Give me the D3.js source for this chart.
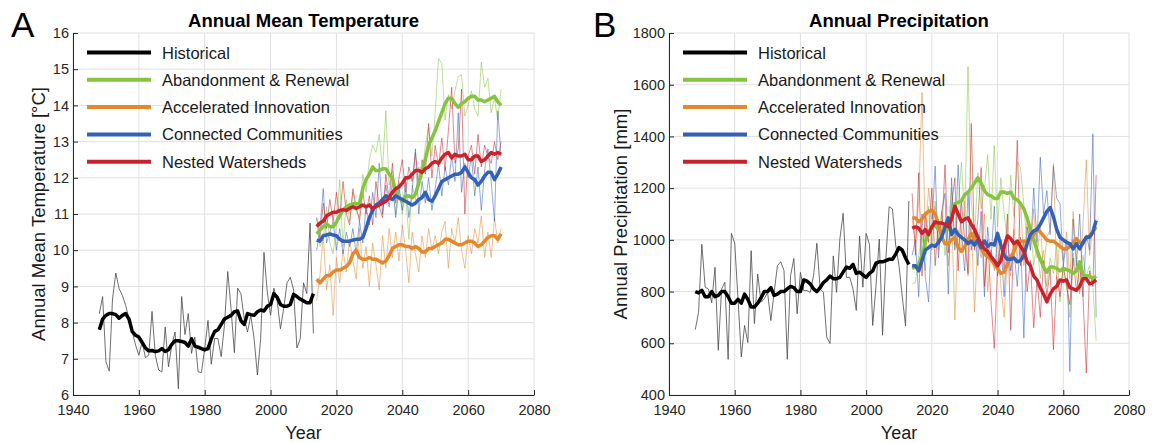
<!DOCTYPE html>
<html lang="en">
<head>
<meta charset="utf-8">
<title>Annual Mean Temperature and Annual Precipitation</title>
<script src="https://d3js.org/d3.v7.min.js"></script>
<style type="text/css">
    body { margin: 0; background: #fff; }
    svg { display: block; font-family: "Liberation Sans", Arial, sans-serif; }
    .axis text { font-size: 14.5px; fill: #262626; }
    .axis path, .axis line { stroke: #262626; }
    .grid line { stroke: #e0e0e0; stroke-width: 1; }
</style>
</head>
<body>
<script type="text/javascript">
// ---------- Data ----------
const histYears = d3.range(1948, 2014);   // 1948..2013
const futYears = d3.range(2014, 2071);    // 2014..2070

const xTicks = [1940, 1960, 1980, 2000, 2020, 2040, 2060, 2080];
const tempTicks = [6, 7, 8, 9, 10, 11, 12, 13, 14, 15, 16];
const precipTicks = [400, 600, 800, 1000, 1200, 1400, 1600, 1800];

const seriesNames = ["Historical", "Abandonment & Renewal", "Accelerated Innovation", "Connected Communities", "Nested Watersheds"];
const seriesColors = ["#000000", "#86c440", "#e2892e", "#3461b6", "#c8232b"];

// temperature, annual values
const tempHist = [
    8.24, 8.72, 6.92, 6.66, 8.65, 9.37, 8.94, 8.75, 8.48, 8.1,
    7.74, 7.38, 7.1, 7.47, 7.03, 7.1, 8.31, 7.1, 6.69, 6.64,
    7.88, 6.78, 7.38, 7.74, 6.17, 8.72, 7.67, 8.25, 7.15, 7.6,
    6.64, 6.62, 7.28, 8.06, 6.85, 7.56, 7.56, 7.06, 7.93, 9.41,
    8.38, 7.17, 8.95, 8.8, 8.11, 7.74, 8.2, 7.56, 6.55, 7.56,
    9.94, 8.84, 8.2, 8.95, 8.6, 7.83, 8.4, 9.1, 9.25, 8.9,
    7.3, 7.55, 9.1, 8.8, 10.75, 7.7
];
const tempAR = [
    10.9, 10.1, 10.3, 11.2, 10.2, 9.9, 10.7, 11.95, 10.1, 11.4,
    10.8, 11.6, 11.1, 10.9, 12.1, 11.6, 12.5, 12.9, 12.7, 13.2,
    12.2, 13.85, 11.8, 12.2, 11.0, 11.9, 11.0, 11.6, 10.3, 11.8,
    11.4, 12.3, 12.0, 12.9, 13.4, 12.6, 13.8, 15.3, 15.15, 13.6,
    14.3, 13.9, 14.4, 14.8, 14.85, 13.7, 14.0, 14.4, 13.9, 13.7,
    15.2, 14.5, 14.75, 13.8, 14.2, 13.6, 14.45
];
const tempAI = [
    8.6, 9.3, 10.4, 8.9, 9.6, 8.2, 9.8, 9.1, 10.0, 9.4,
    10.3, 9.7, 9.2, 10.6, 9.5, 10.1, 9.0, 10.2, 9.6, 8.9,
    10.4, 9.5, 10.6, 9.8, 10.5, 9.7, 10.7, 10.0, 9.1, 10.5,
    9.9, 9.4, 10.4, 9.8, 10.6, 10.0, 10.4, 9.9, 10.5, 10.8,
    9.5, 10.6, 10.2, 10.9, 10.0, 9.5, 10.4, 9.9, 10.6, 10.2,
    10.95, 9.8, 10.5, 9.8, 10.9, 10.2, 10.6
];
const tempCC = [
    10.0, 10.6, 11.7, 10.2, 10.5, 10.8, 10.0, 10.6, 9.9, 10.5,
    10.1, 10.6, 9.9, 10.8, 10.2, 11.2, 10.7, 11.6, 10.9, 12.4,
    11.0, 11.8, 11.2, 11.9, 10.9, 11.7, 11.1, 11.9, 10.9, 11.6,
    12.8, 11.0, 11.9, 11.3, 12.0, 11.1, 11.7, 12.4, 11.5, 12.3,
    11.8, 12.6, 11.9, 13.8, 11.6, 12.4, 12.0, 12.6, 11.5, 12.3,
    11.1, 12.2, 12.8, 11.9, 10.8, 13.85, 12.6
];
const tempNW = [
    10.9, 10.3, 11.3, 10.6, 11.4, 10.8, 11.6, 10.9, 11.9, 11.0,
    10.7, 11.7, 11.2, 10.8, 11.6, 11.0, 11.5, 10.7, 11.9, 11.2,
    10.9, 12.1, 11.4, 12.4, 11.3, 12.0, 12.5, 11.6, 12.3, 11.9,
    12.7, 11.8, 12.5, 12.1, 13.5, 12.0, 12.9, 12.3, 13.1, 12.2,
    13.3, 14.5, 12.4, 12.8, 14.45, 11.0, 12.6, 12.9, 12.1, 13.2,
    12.3, 12.9, 12.6, 12.4, 13.0, 12.5, 13.0
];

// temperature, running means
const tempHistAvg = [
    7.8, 8.1, 8.2, 8.25, 8.25, 8.22, 8.12, 8.2, 8.25, 8.1,
    7.75, 7.65, 7.6, 7.45, 7.3, 7.22, 7.23, 7.2, 7.22, 7.28,
    7.2, 7.25, 7.4, 7.5, 7.5, 7.48, 7.45, 7.35, 7.55, 7.35,
    7.32, 7.28, 7.25, 7.28, 7.55, 7.75, 7.8, 7.95, 8.1, 8.15,
    8.2, 8.3, 8.32, 8.05, 7.95, 8.25, 8.22, 8.2, 8.3, 8.35,
    8.32, 8.45, 8.5, 8.8, 8.7, 8.5, 8.45, 8.45, 8.5, 8.78,
    8.72, 8.65, 8.6, 8.55, 8.55, 8.8
];
const tempARAvg = [
    10.45, 10.55, 10.65, 10.72, 10.65, 10.65, 10.78, 10.95, 11.1, 11.2,
    11.25, 11.28, 11.28, 11.3, 11.7, 11.95, 12.1, 12.3, 12.2, 12.2,
    12.25, 12.25, 12.1, 12.0, 11.6, 11.45, 11.35, 11.5, 11.5, 11.45,
    11.55, 11.85, 12.2, 12.5, 12.9, 13.1, 13.3, 13.55, 13.8, 14.05,
    14.2, 14.2, 14.05, 13.95, 14.05, 14.1, 14.2, 14.25, 14.25, 14.15,
    14.15, 14.1, 14.15, 14.2, 14.25, 14.1, 14.0
];
const tempAIAvg = [
    9.2, 9.1, 9.2, 9.3, 9.3, 9.4, 9.45, 9.45, 9.5, 9.55,
    9.65, 9.9, 10.0, 9.8, 9.75, 9.75, 9.8, 9.75, 9.75, 9.7,
    9.65, 9.7, 9.85, 10.05, 10.1, 10.15, 10.15, 10.1, 10.1, 10.05,
    10.1, 10.05, 9.95, 9.95, 10.05, 10.05, 10.1, 10.15, 10.2, 10.3,
    10.3, 10.25, 10.2, 10.15, 10.15, 10.2, 10.25, 10.25, 10.2, 10.1,
    10.15, 10.25, 10.35, 10.4, 10.4, 10.3, 10.45
];
const tempCCAvg = [
    10.28, 10.25, 10.4, 10.42, 10.45, 10.42, 10.4, 10.3, 10.25, 10.25,
    10.25, 10.28, 10.3, 10.3, 10.35, 10.6, 10.9, 11.1, 11.25, 11.3,
    11.4, 11.5, 11.45, 11.4, 11.5, 11.45, 11.4, 11.35, 11.3, 11.25,
    11.3, 11.4, 11.45, 11.6, 11.4, 11.35, 11.5, 11.7, 11.9, 11.95,
    12.0, 12.05, 12.1, 12.1, 12.15, 12.3, 12.15, 12.0, 11.95, 11.8,
    11.9, 12.05, 12.15, 12.15, 11.95, 12.1, 12.3
];
const tempNWAvg = [
    10.65, 10.75, 10.8, 10.95, 11.0, 11.05, 11.05, 11.1, 11.12, 11.1,
    11.15, 11.2, 11.15, 11.2, 11.25, 11.2, 11.25, 11.15, 11.2, 11.25,
    11.3, 11.35, 11.45, 11.6, 11.7, 11.75, 11.85, 12.0, 12.0, 12.1,
    12.2, 12.2, 12.15, 12.25, 12.3, 12.4, 12.45, 12.4, 12.55, 12.65,
    12.7, 12.55, 12.65, 12.6, 12.6, 12.65, 12.5, 12.5, 12.6, 12.6,
    12.45, 12.5, 12.6, 12.7, 12.65, 12.7, 12.65
];

// precipitation, annual values
const precipHist = [
    653, 720, 983, 817, 810, 757, 894, 573, 810, 836,
    538, 1025, 987, 772, 547, 669, 603, 958, 676, 868,
    759, 772, 797, 688, 797, 900, 915, 881, 538, 862,
    928, 714, 874, 804, 804, 797, 862, 987, 810, 797,
    624, 599, 938, 797, 1003, 1103, 855, 855, 810, 727,
    1015, 817, 1025, 983, 669, 823, 1003, 631, 926, 1128,
    1120, 980, 900, 780, 667, 1150
];
const precipAR = [
    830, 835, 940, 1020, 880, 1130, 960, 1150, 1000, 1110,
    940, 1060, 1200, 980, 1130, 1300, 1080, 1670, 1150, 1010,
    1260, 1120, 1200, 1330, 1080, 1365, 1050, 1240, 1100, 1000,
    1250, 1090, 1300, 1280, 1130, 980, 1060, 900, 990, 850,
    960, 820, 930, 870, 980, 760, 900, 820, 700, 950,
    860, 790, 940, 860, 900, 820, 610
];
const precipAI = [
    1080, 990, 1150, 1570, 1000, 1200, 1080, 1130, 960, 1020,
    1060, 900, 1110, 690, 1040, 950, 1150, 860, 1080, 720,
    1010, 930, 1100, 800, 960, 880, 1010, 820, 700, 940,
    860, 1040, 920, 1150, 900, 1080, 960, 1120, 930, 1060,
    880, 1010, 1040, 1295, 860, 1000, 920, 1030, 850, 1110,
    940, 800, 1060, 1310, 940, 1050, 1080
];
const precipCC = [
    940, 1000, 780, 1100, 860, 760, 1050, 1285, 930, 1110,
    1180, 790, 1240, 960, 1290, 1020, 880, 1180, 960, 1060,
    900, 1110, 780, 1050, 920, 1130, 860, 1000, 780, 1020,
    880, 960, 820, 1010, 620, 1050, 960, 1200, 990, 1320,
    1100, 1190, 1020, 1285, 1160, 1140, 900, 1000, 490, 1080,
    900, 1100, 780, 1020, 960, 1410, 700
];
const precipNW = [
    1180, 940, 1260, 860, 1100, 990, 1200, 900, 1080, 1020,
    1290, 950, 1130, 1240, 880, 1150, 1000, 870, 1450, 960,
    1080, 1280, 820, 1000, 760, 580, 900, 1000, 880, 1100,
    650, 1050, 1385, 900, 1000, 800, 920, 660, 850, 700,
    920, 780, 890, 575, 860, 780, 900, 820, 750, 930,
    800, 900, 780, 485, 880, 820, 1250
];

// precipitation, running means
const precipHistAvg = [
    800, 795, 805, 780, 780, 800, 780, 785, 800, 800,
    780, 755, 755, 770, 755, 790, 770, 740, 740, 755,
    775, 800, 800, 815, 785, 790, 800, 800, 810, 820,
    815, 800, 800, 845, 840, 830, 810, 800, 815, 835,
    845, 860, 850, 850, 855, 875, 895, 890, 905, 870,
    875, 865, 855, 870, 880, 910, 915, 915, 920, 925,
    925, 945, 970, 960, 930, 905
];
const precipARAvg = [
    890, 895, 905, 940, 990, 1030, 1050, 1055, 1040, 1030,
    1035, 1040, 1090, 1140, 1145, 1150, 1175, 1185, 1200, 1220,
    1240, 1220, 1190, 1175, 1170, 1160, 1160, 1185, 1185, 1180,
    1185, 1160, 1155, 1140, 1120, 1085, 1040, 1000, 960, 925,
    895, 875, 895, 895, 890, 880, 890, 885, 880, 870,
    880, 915, 865, 860, 860, 850, 860
];
const precipAIAvg = [
    1085, 1085, 1070, 1080, 1100, 1110, 1115, 1100, 1060, 1010,
    985, 985, 1000, 1010, 970, 955, 975, 1000, 1025, 1000,
    985, 965, 945, 935, 925, 905, 890, 870, 875, 905,
    935, 955, 990, 995, 995, 995, 1005, 1020, 1045, 1030,
    1015, 1000, 995, 995, 985, 975, 965, 965, 975, 990,
    1005, 990, 985, 1010, 1015, 1030, 1050
];
const precipCCAvg = [
    900, 900, 880, 920, 960, 970, 980, 975, 990, 1010,
    1050, 1085, 1020, 1040, 1020, 1010, 1000, 985, 995, 980,
    1000, 970, 995, 975, 985, 980, 1025, 980, 940, 925,
    925, 930, 915, 920, 940, 985, 1020, 1035, 1040, 1060,
    1085, 1110, 1125, 1090, 1040, 1010, 1000, 990, 985, 965,
    985, 965, 990, 1010, 1010, 1030, 1075
];
const precipNWAvg = [
    1045, 1050, 1045, 1025, 1040, 1020, 1050, 1070, 1065, 1065,
    1060, 1050, 1080, 1130, 1100, 1070, 1080, 1085, 1060, 1040,
    1010, 985, 965, 955, 935, 920, 900, 920, 975, 1015,
    1005, 985, 995, 975, 955, 915, 900, 860, 845, 815,
    790, 760, 790, 810, 820, 845, 840, 845, 815, 810,
    805, 820, 850, 850, 830, 835, 845
];

// ---------- Constants ----------
const w = 1153;
const h = 443;
const plotTop = 33;
const plotBottom = 395;

const svg = d3.select("body")
    .append("svg")
    .attr("width", w)
    .attr("height", h)
    .style("background-color", "#fff");

function drawPanel(p) {
    const xScale = d3.scaleLinear()
        .domain([1940, 2080])
        .range([p.left, p.right]);
    const yScale = d3.scaleLinear()
        .domain([p.yTicks[0], p.yTicks[p.yTicks.length - 1]])
        .range([plotBottom, plotTop]);

    // grid
    const grid = svg.append("g").attr("class", "grid");
    grid.selectAll(".gx")
        .data(xTicks)
        .enter()
        .append("line")
        .attr("x1", d => xScale(d)).attr("x2", d => xScale(d))
        .attr("y1", plotTop).attr("y2", plotBottom);
    grid.selectAll(".gy")
        .data(p.yTicks)
        .enter()
        .append("line")
        .attr("x1", p.left).attr("x2", p.right)
        .attr("y1", d => yScale(d)).attr("y2", d => yScale(d));

    const line = years => d3.line()
        .x((d, i) => xScale(years[i]))
        .y(d => yScale(d));

    // thin annual lines
    svg.append("path")
        .datum(p.hist)
        .attr("fill", "none")
        .attr("stroke", "#4a4a4a")
        .attr("stroke-width", 0.8)
        .attr("d", line(histYears));
    p.fut.forEach((s, i) => {
        svg.append("path")
            .datum(s)
            .attr("fill", "none")
            .attr("stroke", seriesColors[i + 1])
            .attr("stroke-opacity", 0.6)
            .attr("stroke-width", 0.9)
            .attr("d", line(futYears));
    });

    // thick running means
    svg.append("path")
        .datum(p.histAvg)
        .attr("fill", "none")
        .attr("stroke", seriesColors[0])
        .attr("stroke-width", 3.5)
        .attr("stroke-linejoin", "round")
        .attr("d", line(histYears));
    p.futAvg.forEach((s, i) => {
        svg.append("path")
            .datum(s)
            .attr("fill", "none")
            .attr("stroke", seriesColors[i + 1])
            .attr("stroke-width", 3.5)
            .attr("stroke-linejoin", "round")
            .attr("d", line(futYears));
    });

    // axes (ticks pointing inward)
    svg.append("g")
        .attr("class", "axis")
        .attr("transform", "translate(0," + plotBottom + ")")
        .call(d3.axisBottom(xScale).tickValues(xTicks).tickFormat(d3.format("d"))
            .tickSizeInner(-5).tickSizeOuter(0).tickPadding(10));
    svg.append("g")
        .attr("class", "axis")
        .attr("transform", "translate(" + p.left + ",0)")
        .call(d3.axisLeft(yScale).tickValues(p.yTicks).tickFormat(d3.format("d"))
            .tickSizeInner(-5).tickSizeOuter(0).tickPadding(4));

    // legend
    seriesNames.forEach((name, i) => {
        const ly = 52.5 + i * 27.3;
        svg.append("line")
            .attr("x1", p.left + 14).attr("x2", p.left + 78)
            .attr("y1", ly).attr("y2", ly)
            .attr("stroke", seriesColors[i])
            .attr("stroke-width", 4);
        svg.append("text")
            .attr("x", p.left + 89)
            .attr("y", ly + 6)
            .attr("font-size", "16.5px")
            .attr("fill", "#1a1a1a")
            .text(name);
    });

    // titles and labels
    svg.append("text")
        .attr("x", (p.left + p.right) / 2)
        .attr("y", 27)
        .attr("text-anchor", "middle")
        .attr("font-size", "18.5px")
        .attr("font-weight", "bold")
        .text(p.title);
    svg.append("text")
        .attr("x", (p.left + p.right) / 2)
        .attr("y", 439)
        .attr("text-anchor", "middle")
        .attr("font-size", "18px")
        .attr("fill", "#1a1a1a")
        .text("Year");
    svg.append("text")
        .attr("transform", "translate(" + p.yLabelX + "," + (plotTop + plotBottom) / 2 + ") rotate(-90)")
        .attr("text-anchor", "middle")
        .attr("font-size", "18.5px")
        .attr("fill", "#1a1a1a")
        .text(p.yLabel);
    svg.append("text")
        .attr("x", p.letterX)
        .attr("y", 37)
        .attr("font-size", "35px")
        .text(p.letter);
}

drawPanel({
    left: 73, right: 534,
    yTicks: tempTicks,
    hist: tempHist, histAvg: tempHistAvg,
    fut: [tempAR, tempAI, tempCC, tempNW],
    futAvg: [tempARAvg, tempAIAvg, tempCCAvg, tempNWAvg],
    title: "Annual Mean Temperature",
    yLabel: "Annual Mean Temperature [°C]",
    yLabelX: 45,
    letter: "A", letterX: 11
});

drawPanel({
    left: 669, right: 1129,
    yTicks: precipTicks,
    hist: precipHist, histAvg: precipHistAvg,
    fut: [precipAR, precipAI, precipCC, precipNW],
    futAvg: [precipARAvg, precipAIAvg, precipCCAvg, precipNWAvg],
    title: "Annual Precipitation",
    yLabel: "Annual Precipitation [mm]",
    yLabelX: 627,
    letter: "B", letterX: 593
});
</script>
</body>
</html>
